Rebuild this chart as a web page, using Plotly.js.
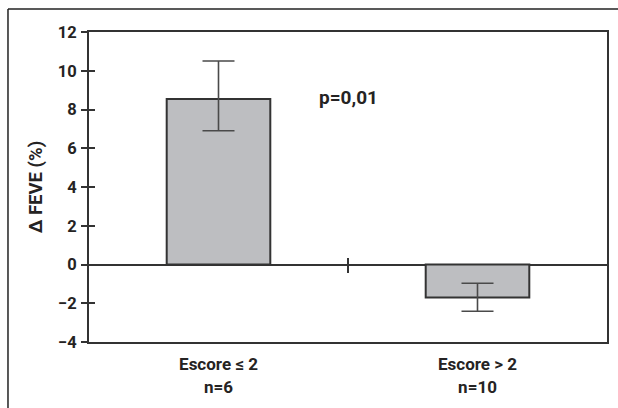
<!DOCTYPE html>
<html>
<head>
<meta charset="utf-8">
<script src="https://cdn.plot.ly/plotly-3.0.1.min.js"></script>
<style>html,body{margin:0;padding:0;background:#fff;}#chart{width:618px;height:408px;}</style>
</head>
<body>
<div id="chart"></div>
<script>
const categories = ["Escore ≤ 2<br>n=6", "Escore > 2<br>n=10"];
const deltaFeve = [8.54, -1.70];
const errPlus = [1.96, 0.73];
const errMinus = [1.64, 0.71];
const yTicks = [-4, -2, 0, 2, 4, 6, 8, 10, 12];
const pText = "p=0,01";

const ink = "#252323";
const fontFam = "Roboto, 'Liberation Sans', Arial, sans-serif";

const trace = {
  type: "bar",
  x: [0, 1],
  y: deltaFeve,
  marker: {color: "#bdbec1", line: {color: "#333333", width: 2}},
  error_y: {type: "data", symmetric: false, array: errPlus, arrayminus: errMinus,
            color: "#4a4a4a", thickness: 1.6, width: 16},
  hoverinfo: "none",
  showlegend: false
};
// invisible helper traces for the category-boundary tick on the zero line
const helper2 = {type: "scatter", x: [0, 1], y: [0, 0], xaxis: "x2", mode: "none", showlegend: false, hoverinfo: "none"};
const helper3 = {type: "scatter", x: [0, 1], y: [0, 0], xaxis: "x3", mode: "none", showlegend: false, hoverinfo: "none"};
const helperY = {type: "scatter", x: [0, 1], y: [0, 0], yaxis: "y2", mode: "none", showlegend: false, hoverinfo: "none"};

const tickFont = {family: fontFam, size: 16.5, color: ink, weight: 700};

const layout = {
  width: 618, height: 408,
  margin: {l: 89, r: 11, t: 32, b: 66, pad: 0},
  paper_bgcolor: "#fff", plot_bgcolor: "#fff",
  bargap: 0.6,
  font: {family: fontFam, color: ink},
  xaxis: {
    range: [-0.5, 1.5], tickmode: "array", tickvals: [0, 1], ticktext: categories,
    ticks: "", showline: true, mirror: true, linecolor: "#333", linewidth: 2,
    showgrid: false, zeroline: false, tickfont: {family: fontFam, size: 17, color: ink, weight: 700},
    ticklabelstandoff: 6,
    fixedrange: true
  },
  xaxis2: {
    overlaying: "x", anchor: "free", position: 0.25, range: [-0.5, 1.5],
    tickmode: "array", tickvals: [0.5], showticklabels: false, ticks: "outside", ticklen: 7,
    tickwidth: 2, tickcolor: "#333", showline: false, showgrid: false, zeroline: false
  },
  xaxis3: {
    overlaying: "x", anchor: "free", position: 0.25, range: [-0.5, 1.5],
    tickmode: "array", tickvals: [0.5], showticklabels: false, ticks: "inside", ticklen: 7,
    tickwidth: 2, tickcolor: "#333", showline: false, showgrid: false, zeroline: false
  },
  yaxis: {
    range: [-4, 12], tickmode: "array", tickvals: yTicks,
    ticks: "outside", ticklen: 6, tickwidth: 2, tickcolor: "#333",
    showline: true, mirror: true, linecolor: "#333", linewidth: 2,
    showgrid: false, zeroline: true, zerolinecolor: "#333", zerolinewidth: 2,
    tickfont: tickFont, ticklabelstandoff: 1,
    title: {text: "Δ FEVE (%)", font: {family: fontFam, size: 18.5, color: ink, weight: 700}, standoff: 10},
    fixedrange: true
  },
  yaxis2: {
    overlaying: "y", anchor: "x", side: "left", range: [-4, 12], tickmode: "array", tickvals: yTicks,
    ticks: "inside", ticklen: 6, tickwidth: 2, tickcolor: "#333", showticklabels: false,
    showline: false, showgrid: false, zeroline: false
  },
  annotations: [{
    x: 0.5, y: 8.6, xref: "x", yref: "y", text: pText, showarrow: false,
    font: {family: fontFam, size: 19, color: ink, weight: 700}
  }],
  shapes: [
    {type: "line", xref: "paper", yref: "paper", x0: -0.1564, x1: 1.1, y0: 1.0743, y1: 1.0743, line: {color: "#222", width: 1.5}},
    {type: "line", xref: "paper", yref: "paper", x0: -0.1564, x1: -0.1564, y0: -0.3, y1: 1.0743, line: {color: "#222", width: 1.5}}
  ]
};

Plotly.newPlot("chart", [trace, helper2, helper3, helperY], layout, {staticPlot: true, displayModeBar: false});
</script>
</body>
</html>
